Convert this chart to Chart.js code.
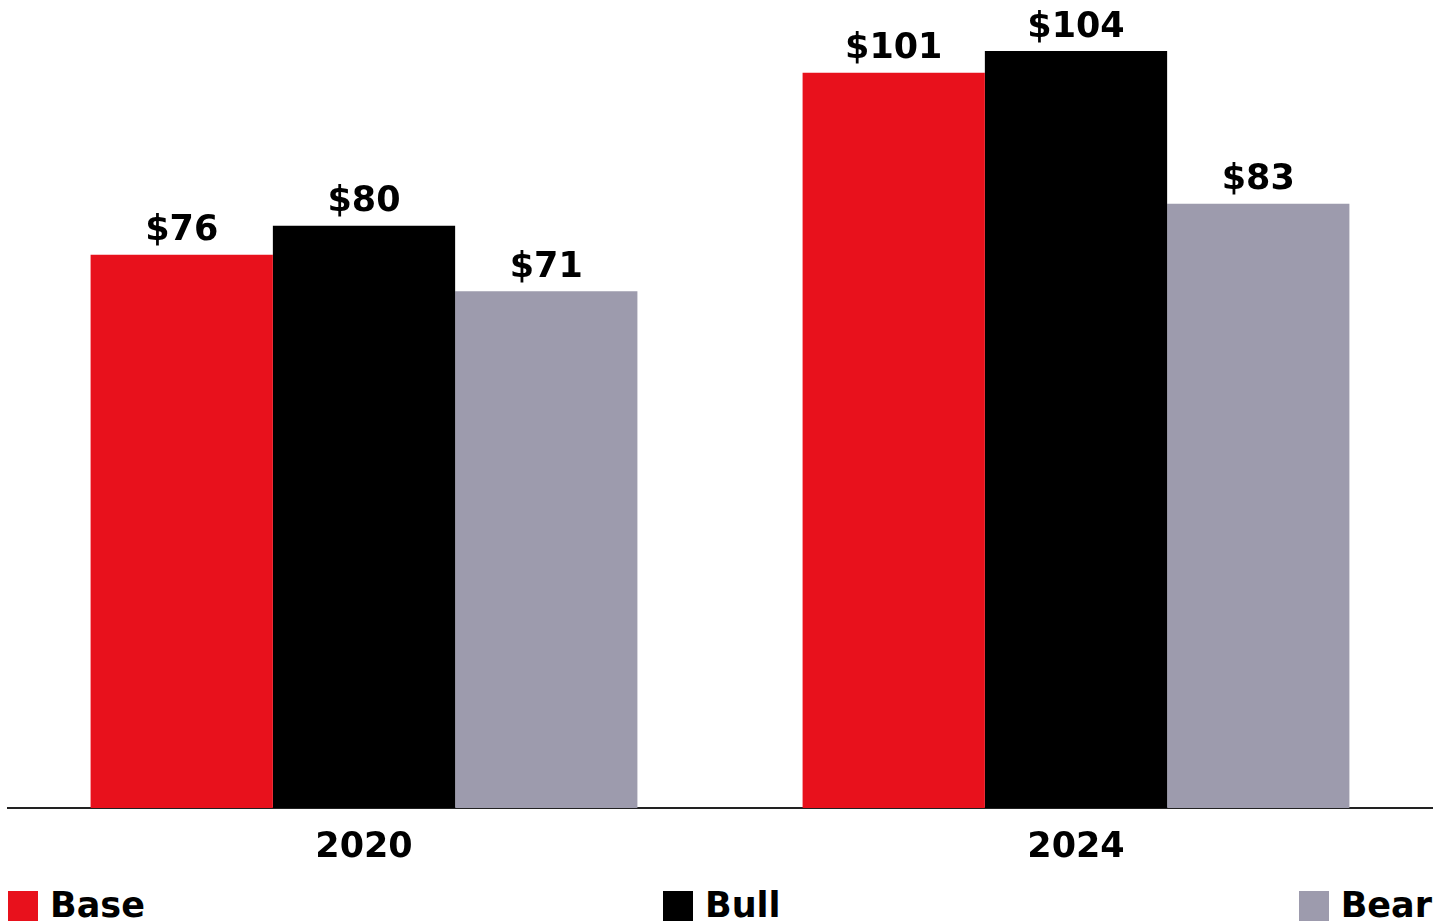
<!DOCTYPE html>
<html>
<head>
<meta charset="utf-8">
<script src="https://cdn.jsdelivr.net/npm/chart.js@4.4.1/dist/chart.umd.min.js"></script>
<style>
  html,body{margin:0;padding:0;background:#fff;}
  body{width:1448px;height:922px;overflow:hidden;font-family:"DejaVu Sans",sans-serif;}
  #wrap{position:absolute;left:0;top:0;width:1448px;height:872px;}
  #legend{position:absolute;left:8px;right:16px;top:884px;display:flex;justify-content:space-between;}
  .item{display:flex;align-items:center;font-weight:700;font-size:35px;color:#000;line-height:42px;}
  .sw{width:30px;height:30px;margin-right:12px;margin-top:2px;}
</style>
</head>
<body>
<div id="wrap"><canvas id="barChart"></canvas></div>
<div id="legend"></div>
<script>
// chart data
const years = ['2020', '2024'];
const base = [76, 101];
const bull = [80, 104];
const bear = [71, 83];
const seriesNames = ['Base', 'Bull', 'Bear'];
const colors = ['#E8111C', '#000000', '#9D9BAD'];

const FONT = '"DejaVu Sans", sans-serif';

// draws "$value" above every bar
const valueLabels = {
  id: 'valueLabels',
  afterDatasetsDraw(c){
    const ctx = c.ctx;
    ctx.save();
    ctx.font = '700 35px ' + FONT;
    ctx.fillStyle = '#000';
    ctx.textAlign = 'center';
    ctx.textBaseline = 'bottom';
    c.data.datasets.forEach((ds, i)=>{
      c.getDatasetMeta(i).data.forEach((bar, j)=>{
        ctx.fillText('$' + ds.data[j], bar.x, bar.y - 6);
      });
    });
    ctx.restore();
  }
};

const ctx = document.getElementById('barChart').getContext('2d');
const chart = new Chart(ctx, {
  type: 'bar',
  data: {
    labels: years,
    datasets: [
      {label: seriesNames[0], data: base, backgroundColor: colors[0]},
      {label: seriesNames[1], data: bull, backgroundColor: colors[1]},
      {label: seriesNames[2], data: bear, backgroundColor: colors[2]}
    ]
  },
  options: {
    responsive: true,
    maintainAspectRatio: false,
    animation: false,
    layout: {padding: {left: 8, right: 16, top: 0, bottom: 0}},
    datasets: {bar: {categoryPercentage: 0.768, barPercentage: 1.0, borderWidth: 0}},
    plugins: {legend: {display: false}, tooltip: {enabled: false}},
    scales: {
      x: {
        grid: {display: false, drawTicks: false},
        border: {display: true, color: '#222', width: 2},
        ticks: {color: '#000', padding: 19, font: {family: FONT, size: 35, weight: '700'}},
        afterFit(s){ s.height = 64; }
      },
      y: {display: false, min: 0, max: 111}
    }
  },
  plugins: [valueLabels]
});

// html legend, spread across the width
const legend = document.getElementById('legend');
seriesNames.forEach((n, i)=>{
  const d = document.createElement('div');
  d.className = 'item';
  d.innerHTML = `<span class="sw" style="background:${colors[i]}"></span>${n}`;
  legend.appendChild(d);
});
</script>
</body>
</html>
